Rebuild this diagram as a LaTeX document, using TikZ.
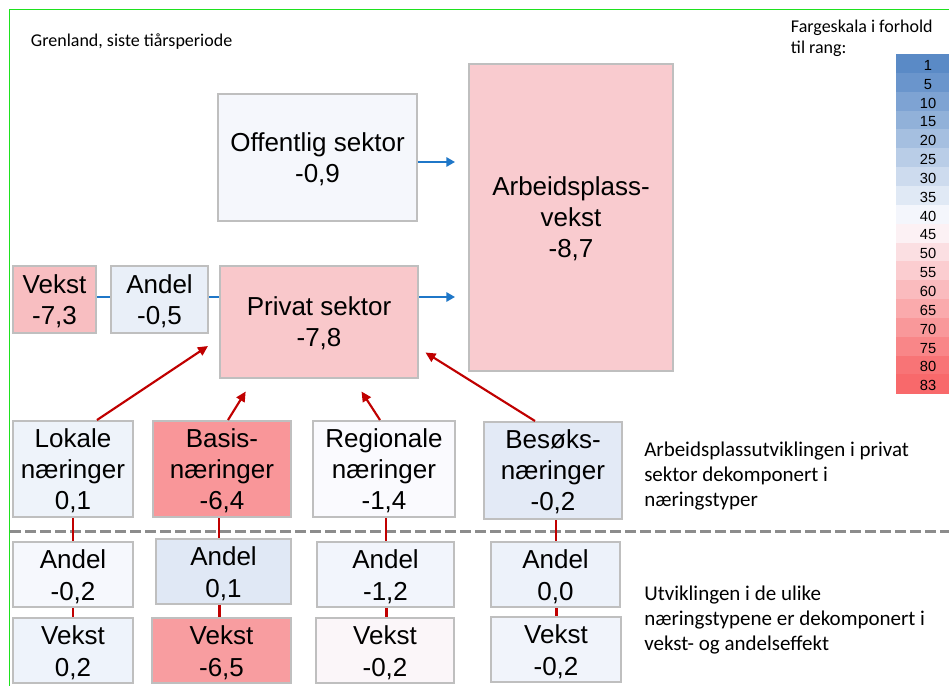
\documentclass[tikz,border=0pt]{standalone}
\usepackage{fontspec}
\setmainfont{Liberation Sans}
\newfontfamily\carl{Carlito}
\usetikzlibrary{arrows.meta,calc}
\definecolor{bordergray}{RGB}{191,191,191}
\definecolor{arrowblue}{RGB}{31,119,200}
\definecolor{arrowred}{RGB}{192,0,0}
\definecolor{framegreen}{RGB}{30,225,30}
\definecolor{dashgray}{RGB}{140,140,140}
\definecolor{lb}{RGB}{90,138,198}
\definecolor{lw}{RGB}{252,252,255}
\definecolor{lr}{RGB}{248,105,107}
\definecolor{cOff}{RGB}{245,247,252}
\definecolor{cArb}{RGB}{249,203,207}
\definecolor{cPri}{RGB}{249,200,203}
\definecolor{cVek}{RGB}{248,190,193}
\definecolor{cAnd}{RGB}{233,239,248}
\definecolor{cLok}{RGB}{238,243,250}
\definecolor{cBas}{RGB}{249,150,153}
\definecolor{cReg}{RGB}{250,250,254}
\definecolor{cBes}{RGB}{227,234,246}
\definecolor{cAa}{RGB}{246,248,253}
\definecolor{cAb}{RGB}{224,232,245}
\definecolor{cAc}{RGB}{242,245,252}
\definecolor{cAd}{RGB}{237,242,250}
\definecolor{cVa}{RGB}{238,243,251}
\definecolor{cVb}{RGB}{248,157,160}
\definecolor{cVc}{RGB}{251,246,249}
\definecolor{cVd}{RGB}{241,244,251}
\newcommand{\mystrut}{\rule[-0.2\baselineskip]{0pt}{\baselineskip}}
\begin{document}
\begin{tikzpicture}[x=0.75pt,y=-0.75pt,
  bx/.style={draw=bordergray, line width=1.5pt, align=center, inner sep=0pt,
    font=\fontsize{19.5}{23.25}\selectfont},
  bxb/.style={bx, font=\fontsize{19.5}{24}\selectfont},
  sz/.style 2 args={minimum width=#1*0.75pt, minimum height=#2*0.75pt},
  blueline/.style={draw=arrowblue, line width=1.5pt},
  bluearrow/.style={blueline, -{Triangle[length=6.5pt,width=7pt]}},
  redline/.style={draw=arrowred, line width=1.6pt},
  redarrow/.style={redline, -{Triangle[length=7.5pt,width=7pt]}},
  sidetext/.style={font=\carl\fontsize{15.75}{18.75}\selectfont, align=left, anchor=north west, inner sep=0pt},
  legnum/.style={font=\fontsize{11}{13}\selectfont, anchor=base, inner sep=0pt}
]
\useasboundingbox (0,0) rectangle (949,686);
\fill[white] (0,0) rectangle (949,686);
% frame
\draw[framegreen, line width=1.1pt] (949,9.5) -- (9.5,9.5) -- (9.5,686);
% dashed separator
\draw[dashgray, line width=2.25pt, dash pattern=on 8.25pt off 3pt] (10,531) -- (949,531);

% title
\node[font=\carl\fontsize{13.5}{16}\selectfont, anchor=base west, inner sep=0pt] (title) at (30.7,46) {Grenland, siste tiårsperiode};

% legend
\node[font=\carl\fontsize{13.5}{15.75}\selectfont, align=left, anchor=north west, inner sep=0pt] (leghead) at (790.7,15.5) {\mystrut Fargeskala i forhold\\\mystrut til rang:};
\foreach \n/\p/\c [count=\i from 0] in {1/100/lb,5/90.2/lb,10/78/lb,15/65.9/lb,20/53.7/lb,25/41.5/lb,30/29.3/lb,35/17.1/lb,40/4.9/lb,45/7.3/lr,50/19.5/lr,55/31.7/lr,60/43.9/lr,65/56.1/lr,70/68.3/lr,75/80.5/lr,80/92.7/lr,83/100/lr}{
  \fill[fill=\c!\p!lw] (896,{54+\i*18.85}) rectangle (949,{54+(\i+1)*18.85+0.4});
  \node[legnum] (leg\n) at (928,{54+\i*18.85+16.3}) {\n};
}

% top boxes
\node[bx, sz={199}{127}, fill=cOff] (off) at (317.5,157.5) {\mystrut Offentlig sektor\\\mystrut -0,9};
\node[bx, sz={204}{307}, fill=cArb] (arb) at (571,217.5) {\mystrut Arbeidsplass-\\\mystrut vekst\\\mystrut -8,7};
\node[bx, sz={83}{67}, fill=cVek] (vek) at (54.5,299.5) {\mystrut Vekst\\\mystrut -7,3};
\node[bx, sz={97}{67}, fill=cAnd] (and) at (159.5,299.5) {\mystrut Andel\\\mystrut -0,5};
\node[bx, sz={198}{112}, fill=cPri] (pri) at (319,322) {\mystrut Privat sektor\\\mystrut -7,8};

% industry boxes
\node[bx, sz={120}{96}, fill=cLok] (lok) at (73,469) {\mystrut Lokale\\\mystrut næringer\\\mystrut 0,1};
\node[bx, sz={138}{96}, fill=cBas] (bas) at (222,469) {\mystrut Basis-\\\mystrut næringer\\\mystrut -6,4};
\node[bx, sz={142}{96}, fill=cReg] (reg) at (384,469) {\mystrut Regionale\\\mystrut næringer\\\mystrut -1,4};
\node[bx, sz={138}{97}, fill=cBes] (bes) at (553,470.5) {\mystrut Besøks-\\\mystrut næringer\\\mystrut -0,2};

% bottom boxes
\node[bxb, sz={120}{65}, fill=cAa] (a1) at (73,574.5) {\mystrut Andel\\\mystrut -0,2};
\node[bxb, sz={120}{65}, fill=cVa] (v1) at (73,650.5) {\mystrut Vekst\\\mystrut 0,2};
\node[bxb, sz={135}{65}, fill=cAb] (a2) at (223.5,571.5) {\mystrut Andel\\\mystrut 0,1};
\node[bxb, sz={139}{65}, fill=cVb] (v2) at (221.5,650.5) {\mystrut Vekst\\\mystrut -6,5};
\node[bxb, sz={137}{65}, fill=cAc] (a3) at (385.5,574.5) {\mystrut Andel\\\mystrut -1,2};
\node[bxb, sz={138}{65}, fill=cVc] (v3) at (385,650.5) {\mystrut Vekst\\\mystrut -0,2};
\node[bxb, sz={129}{65}, fill=cAd] (a4) at (555.5,574.5) {\mystrut Andel\\\mystrut 0,0};
\node[bxb, sz={130}{65}, fill=cVd] (v4) at (556,649.5) {\mystrut Vekst\\\mystrut -0,2};

% side texts
\node[sidetext] (side1) at (644,436) {\mystrut Arbeidsplassutviklingen i privat\\\mystrut sektor dekomponert i\\\mystrut næringstyper};
\node[sidetext] (side2) at (644,580.7) {\mystrut Utviklingen i de ulike\\\mystrut næringstypene er dekomponert i\\\mystrut vekst- og andelseffekt};

% blue connectors
\coordinate (offA) at (455,162);
\coordinate (priA) at (455,297);
\draw[bluearrow] (off.east |- offA) -- (offA);
\draw[bluearrow] (pri.east |- priA) -- (priA);
\draw[blueline] (vek.east |- priA) -- (and.west |- priA);
\draw[blueline] (and.east |- priA) -- (pri.west |- priA);

% red arrows into private sector
\coordinate (t1) at (208,346);
\coordinate (t2) at (245.7,391.5);
\coordinate (t3) at (361.5,391.5);
\coordinate (t4) at (425.5,352.5);
\draw[redarrow] ($(lok.north)+(24,0)$) -- (t1);
\draw[redarrow] ($(bas.north)+(6,0)$) -- (t2);
\draw[redarrow] ($(reg.north)+(-4,0)$) -- (t3);
\draw[redarrow] ($(bes.north)+(-18,0)$) -- (t4);

% red vertical connectors
\draw[redline] (lok.south) -- (lok.south |- a1.north);
\draw[redline] (a1.south) -- (a1.south |- v1.north);
\draw[redline] ($(bas.south)+(-3,0)$) -- ($(bas.south |- a2.north)+(-3,0)$);
\draw[redline] ($(a2.south)+(-4,0)$) -- ($(a2.south |- v2.north)+(-4,0)$);
\draw[redline] ($(reg.south)+(2,0)$) -- ($(reg.south |- a3.north)+(2,0)$);
\draw[redline] ($(a3.south)+(1,0)$) -- ($(a3.south |- v3.north)+(1,0)$);
\draw[redline] ($(bes.south)+(3,0)$) -- ($(bes.south |- a4.north)+(3,0)$);
\draw[redline] ($(a4.south)+(1,0)$) -- ($(a4.south |- v4.north)+(1,0)$);
\end{tikzpicture}
\end{document}
